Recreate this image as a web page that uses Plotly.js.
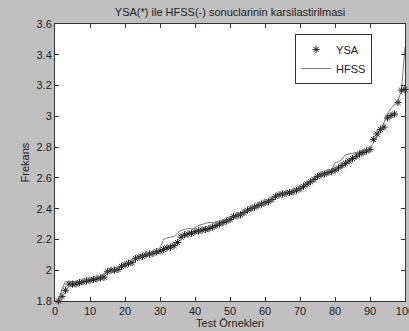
<!DOCTYPE html>
<html>
<head>
<meta charset="utf-8">
<script src="https://cdn.plot.ly/plotly-3.0.1.min.js"></script>
<style>html,body{margin:0;padding:0;background:#c0c0c0;}#chart{width:409px;height:331px;}</style>
</head>
<body>
<div id="chart"></div>
<script>
const sampleIndex = Array.from({length: 100}, (_, i) => i + 1);

const ysaValues = [
  1.80, 1.83, 1.87, 1.91, 1.91, 1.91, 1.92, 1.925, 1.93, 1.935,
  1.94, 1.945, 1.95, 1.955, 1.99, 2.00, 2.00, 2.005, 2.025, 2.035,
  2.045, 2.05, 2.075, 2.085, 2.09, 2.10, 2.105, 2.11, 2.12, 2.125,
  2.135, 2.145, 2.15, 2.16, 2.18, 2.215, 2.23, 2.235, 2.24, 2.25,
  2.255, 2.26, 2.265, 2.27, 2.28, 2.29, 2.30, 2.31, 2.32, 2.33,
  2.35, 2.355, 2.36, 2.375, 2.39, 2.40, 2.41, 2.42, 2.43, 2.44,
  2.445, 2.46, 2.48, 2.49, 2.495, 2.50, 2.505, 2.51, 2.52, 2.53,
  2.545, 2.56, 2.575, 2.59, 2.61, 2.62, 2.625, 2.635, 2.64, 2.65,
  2.665, 2.68, 2.695, 2.71, 2.725, 2.74, 2.755, 2.765, 2.775, 2.785,
  2.85, 2.885, 2.915, 2.93, 2.99, 3.005, 3.015, 3.09, 3.17, 3.175
];

const hfssValues = [
  1.80, 1.88, 1.925, 1.925, 1.925, 1.925, 1.925, 1.93, 1.935, 1.94,
  1.945, 1.95, 1.96, 1.975, 1.995, 2.00, 2.00, 2.01, 2.025, 2.035,
  2.045, 2.055, 2.075, 2.085, 2.09, 2.10, 2.105, 2.11, 2.12, 2.14,
  2.20, 2.21, 2.215, 2.22, 2.24, 2.26, 2.265, 2.27, 2.27, 2.275,
  2.29, 2.30, 2.305, 2.31, 2.31, 2.315, 2.32, 2.32, 2.325, 2.335,
  2.35, 2.355, 2.36, 2.375, 2.39, 2.40, 2.41, 2.42, 2.43, 2.44,
  2.445, 2.46, 2.48, 2.49, 2.495, 2.50, 2.505, 2.51, 2.52, 2.535,
  2.555, 2.565, 2.58, 2.595, 2.615, 2.62, 2.625, 2.635, 2.645, 2.70,
  2.705, 2.72, 2.75, 2.755, 2.76, 2.765, 2.77, 2.775, 2.78, 2.79,
  2.83, 2.87, 2.90, 2.96, 3.02, 3.05, 3.08, 3.10, 3.17, 3.45
];

const xTickVals = [0, 10, 20, 30, 40, 50, 60, 70, 80, 90, 100];
const xTickText = ['0', '10', '20', '30', '40', '50', '60', '70', '80', '90', '100'];
const yTickVals = [1.8, 2.0, 2.2, 2.4, 2.6, 2.8, 3.0, 3.2, 3.4, 3.6];
const yTickText = ['1.8', '2', '2.2', '2.4', '2.6', '2.8', '3', '3.2', '3.4', '3.6'];

const font = {family: 'Liberation Sans, Arial, sans-serif', size: 11, color: '#222'};

const traces = [
  {
    x: sampleIndex, y: ysaValues, name: 'YSA', type: 'scatter', mode: 'markers',
    marker: {symbol: 'asterisk-open', size: 6, color: '#222', line: {color: '#222', width: 1}},
    cliponaxis: false
  },
  {
    x: sampleIndex, y: hfssValues, name: 'HFSS', type: 'scatter', mode: 'lines',
    line: {color: '#555', width: 0.8}
  }
];

const axisCommon = {
  showgrid: false, zeroline: false, showline: true, linecolor: '#333', linewidth: 1,
  mirror: 'ticks', ticks: 'inside', ticklen: 4, tickcolor: '#333', tickfont: font,
  ticklabeloverflow: 'allow'
};

const layout = {
  width: 409, height: 331,
  paper_bgcolor: '#c0c0c0', plot_bgcolor: '#ffffff',
  margin: {l: 55, r: 4, t: 24, b: 30},
  font: font,
  title: {text: 'YSA(*) ile HFSS(-) sonuclarinin karsilastirilmasi', font: font,
          x: 0.5625, xanchor: 'center', y: 1 - 12/331, yref: 'container', yanchor: 'middle'},
  xaxis: Object.assign({}, axisCommon, {
    range: [0, 100], tickvals: xTickVals, ticktext: xTickText,
    title: {text: 'Test Örnekleri', font: font, standoff: 2}
  }),
  yaxis: Object.assign({}, axisCommon, {
    range: [1.8, 3.6], tickvals: yTickVals, ticktext: yTickText,
    title: {text: 'Frekans', font: font, standoff: 4}
  }),
  legend: {
    x: 0.686, y: 0.964, xanchor: 'left', yanchor: 'top',
    bgcolor: '#ffffff', bordercolor: '#333', borderwidth: 1, font: font,
    tracegroupgap: 0, itemwidth: 30
  },
  showlegend: true
};

Plotly.newPlot('chart', traces, layout, {displayModeBar: false, staticPlot: true});
</script>
</body>
</html>
